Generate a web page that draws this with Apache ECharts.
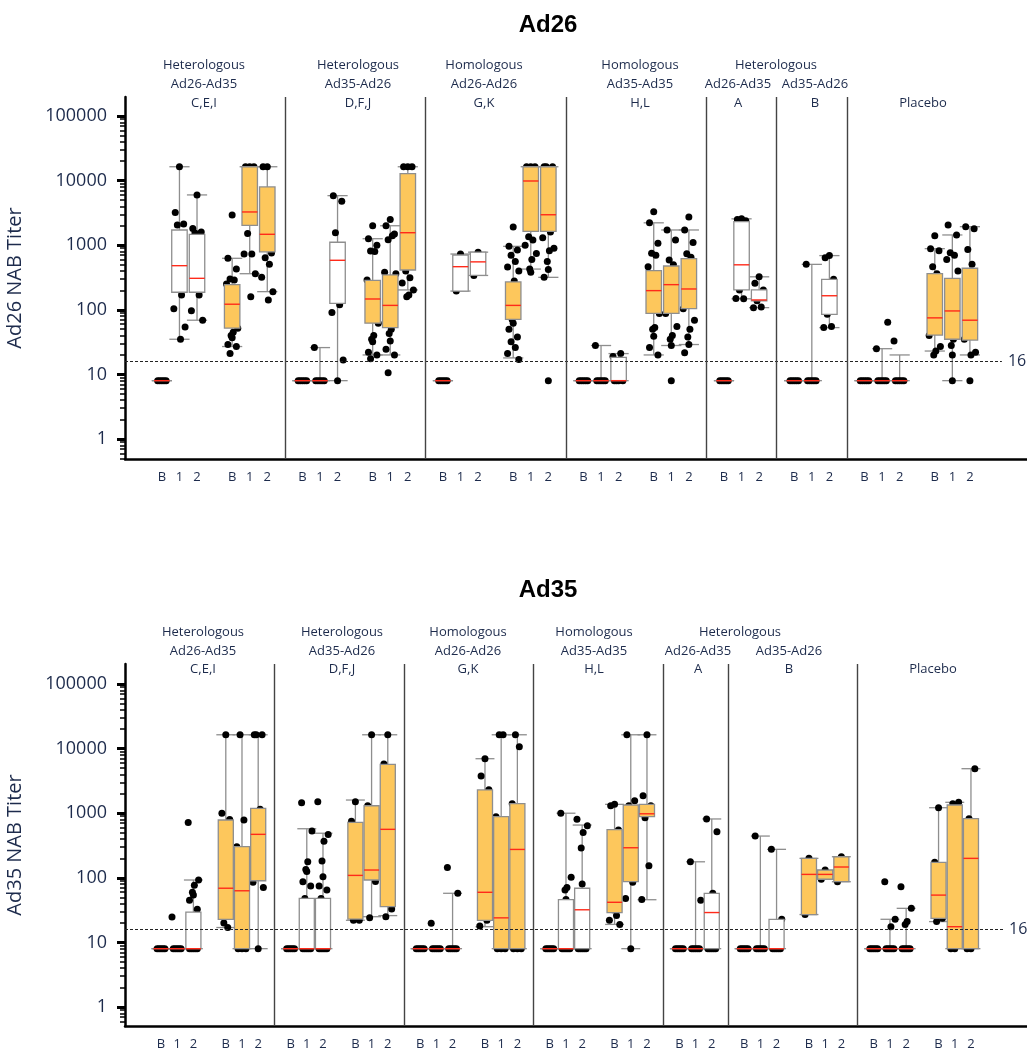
<!DOCTYPE html>
<html><head><meta charset="utf-8">
<script src="https://cdn.jsdelivr.net/npm/echarts@6/dist/echarts.min.js"></script>
<style>html,body{margin:0;padding:0;background:#fff}#c{width:1027px;height:1050px}</style>
</head><body><div id="c"></div>
<script>
// ---------------- DATA ----------------
const visitLabels = ['B', '1', '2'];
const yTickValues = [1, 10, 100, 1000, 10000, 100000];
const refLevel = 16;
const panelTitles = ['Ad26', 'Ad35'];
const yAxisNames = ['Ad26 NAB Titer', 'Ad35 NAB Titer'];

// header texts per panel (line1, line2, line3)
const ad26Headers = [
  ['Heterologous', 'Ad26-Ad35', 'C,E,I'],
  ['Heterologous', 'Ad35-Ad26', 'D,F,J'],
  ['Homologous', 'Ad26-Ad26', 'G,K'],
  ['Homologous', 'Ad35-Ad35', 'H,L'],
  ['Heterologous', '', ''],
  ['', 'Ad26-Ad35', 'A'],
  ['', 'Ad35-Ad26', 'B'],
  ['', '', 'Placebo']
];
const ad35Headers = ad26Headers;

// box type per triple (B,1,2)
const ad26TripleType = ['white','orange','white','orange','white','orange','white','orange','white','white','white','orange'];
const ad35TripleType = ['white','orange','white','orange','white','orange','white','orange','white','white','orange','white','orange'];
// separator after triple index
const ad26SepAfter = [1, 3, 5, 7, 8, 9];
const ad35SepAfter = [1, 3, 5, 7, 8, 10];

// box stats: [lowWhisker, q1, median, q3, highWhisker]
const ad26Boxes = [
  [8,8,8,8,8],[35,187,482,1718,16384],[69,187,307,1475,6000],
  [27,52,122,245,627],[362,2034,3270,16384,16384],[191,790,1475,7970,16384],
  [8,8,8,8,8],[8,8,8,8,26],[8,126,584,1110,5850],
  [20,62,147,286,1260],[20,53,117,346,2000],[203,413,1560,12800,16384],
  [8,8,8,8,8],[195,195,465,705,730],[340,342,552,779,780],
  [18,71,117,270,960],[427,1640,9860,16384,16384],[318,1640,2960,16384,16384],
  [8,8,8,8,8],[8,8,8,8,28],[8,8,8,18.4,21],
  [20,88,198,403,2220],[28,88,245,476,1720],[29,104,210,618,1720],
  [8,8,8,8,8],[148,203,497,2310,2560],[108,138,142,203,324],
  [8,8,8,8,8],[8,8,8,8,505],[53,85,165,296,690],
  [8,8,8,8,8],[8,8,8,8,25],[8,8,8,8,20],
  [23,40.6,75,362,884],[8,35,96,307,1440],[20,34,69,440,1935]
];
const ad26Points = [
  [8,8,8,8,8],[16384,3200,2130,2050,170,104,54,35],[6000,1820,1600,1550,170,97,69],
  [2930,627,427,300,290,250,52,45,40,37,29,27,21],[16384,16384,16384,1520,731,731,362,159],[16384,16384,760,640,505,318,191,142],
  [8,8,8,8,8],[8,8,8,8,8,26],[8,5850,4800,1560,120,91,16.7],
  [2000,1260,1000,815,800,290,62,40,35,32,22,20,17.5],[2500,2000,1490,1210,1400,380,360,50,43,33,24.5,20,10.6],[16384,16384,16384,400,314,260,203,170,159],
  [8,8,8,8,8],[730,195],[780,340],
  [1915,960,843,700,560,460,400,280,71,62,50,38,32,26,21,17],[16384,16384,16384,1350,1200,1000,745,600,427,380],[8,16384,16384,16384,1600,1300,900,822,560,420,320],
  [8,8,8,8,8],[8,8,8,8,8,28],[8,8,8,8,21,19],
  [3300,2220,1070,750,700,465,88,53,50,39,26,20],[8,1720,1200,590,500,88,55,40,35,28],[2730,1720,1100,735,650,104,69,50,38,29,21.7],
  [8,8,8,8,8],[2560,2500,2400,203,148,150],[324,257,203,138,110,108],
  [8,8,8,8,8],[8,8,8,8,8,505],[690,640,296,85,55,53],
  [8,8,8,8,8],[8,8,8,8,8,25,64],[8,8,8,8,8,33],
  [1400,884,820,465,362,40,27,23,20],[8,2050,1440,766,700,600,400,35,28,20],[8,1935,1800,860,505,35,22,20]
];

const ad35Boxes = [
  [8,8,8,8,8],[8,8,8,8,8],[8,8,8,29.5,92.5],
  [17,22.8,69,785,16384],[8,8,63,303,16384],[8,90,471,1190,16384],
  [8,8,8,8,8],[8,8,8,48,575],[8,8,8,48,490],
  [22,23,109,720,1600],[25,92.5,132,1306,16384],[26,35.7,563,5710,16384],
  [8,8,8,8,8],[8,8,8,8,8],[8,8,8,8,57.6],
  [17.5,22,59.7,2290,6980],[8,8,24,884,16384],[8,8,275,1403,16384],
  [8,8,8,8,8],[8,8,8,46,1000],[8,8,32,69,656],
  [19,29,41.8,556,1372],[8,87,292,1340,16384],[45.8,884,980,1372,16384],
  [8,8,8,8,8],[8,8,8,8,177],[8,8,29,57.6,815],
  [8,8,8,8,8],[8,8,8,8,443],[8,8,8,22.8,276],
  [27,27,113,200,200],[95,95,113,132,132],[87,87,147,212,212],
  [8,8,8,8,8],[8,8,8,8,22.8],[8,8,8,8,33.7],
  [21,23.6,54,174,1217],[8,8,17.5,1340,1475],[8,8,200,822,4890]
];
const ad35Points = [
  [8,8,8,8,8],[8,8,8,8,8,24.7],[8,8,8,8,8,720,92.5,77,60,54,45,32.5],
  [16384,1000,800,20,17],[8,8,8,16384,785,303],[8,16384,16384,16384,1150,85,71],
  [8,8,8,8,8],[8,8,8,8,8,1455,530,178,135,125,87,75,48],[8,8,8,8,8,1500,470,367,182,104,75,65,48],
  [1500,750,22,22],[16384,1300,88,24],[16384,5800,33,25],
  [8,8,8,8,8],[8,8,8,8,8,19.8],[8,8,8,8,8,145,57.6],
  [6980,3770,2300,25,22,18],[8,8,8,16384,16384,880],[8,8,8,16384,10700,1400],
  [8,8,8,8,8],[8,8,8,8,8,1000,102,71,65,46],[8,8,8,8,8,804,640,505,290,80],
  [1372,1300,550,32,26,22,19],[8,16384,1560,1300,85,48],[16384,1870,1300,850,154,46],
  [8,8,8,8,8],[8,8,8,8,8,177,45],[8,8,8,8,8,815,517,57.6],
  [8,8,8,8,8],[8,8,8,8,8,443],[8,8,8,8,8,276,22.8],
  [200,27],[132,95],[212,87],
  [8,8,8,8,8],[8,8,8,8,8,87,22.8,17.5],[8,8,8,8,8,73,33.7,21,19],
  [1217,174,23.6,21],[8,8,1475,1400],[8,8,4890,822]
];

// ---------------- LAYOUT / STYLE ----------------
const TEXT = '#1d2b4c';
const ORANGE = '#fdc75c';
const BORDER = '#8e8e8e';
const MEDIAN = '#ff2a1a';
const JIT = [0, -0.24, 0.24, -0.12, 0.12, -0.32, 0.32, 0.06, -0.06];
const LAY = [
  { top: 97, xMin: -2.1, xMax: 49.25, yMin: -0.3096, yMax: 5.294, boxW: 0.88, capW: 1.15, dashEnd: 47.82,
    titleY: 25, headerY: [65, 84, 103], headerX: [204, 358, 484, 640, 776, 738, 815, 923] },
  { top: 664, xMin: -2.222, xMax: 53.46, yMin: -0.294, yMax: 5.31, boxW: 0.93, capW: 1.17, dashEnd: 51.98,
    titleY: 590, headerY: [632, 651, 669], headerX: [203, 342, 468, 594, 740, 698, 789, 933] }
];
const GRID_H = 362;
const L = v => Math.log10(v);

const minorTicks = [];
for (let d = -1; d <= 4; d++) for (let m = 2; m <= 9; m++) minorTicks.push(L(m * Math.pow(10, d)));
const majorTicks = yTickValues.map(L);

const panels = [
  { boxes: ad26Boxes, points: ad26Points, types: ad26TripleType, sep: ad26SepAfter, headers: ad26Headers },
  { boxes: ad35Boxes, points: ad35Points, types: ad35TripleType, sep: ad35SepAfter, headers: ad35Headers }
];

const grid = [], xAxis = [], yAxis = [], series = [], graphic = [];
panels.forEach((P, p) => {
  const lay = LAY[p];
  const slotOf = i => 4 * Math.floor(i / 3) + (i % 3);
  const slots = P.boxes.map((b, i) => slotOf(i));
  const minorIn = minorTicks.filter(v => v > lay.yMin && v < lay.yMax);
  grid.push({ left: 125, top: lay.top, width: 902, height: GRID_H, containLabel: false, outerBoundsMode: 'none' });
  xAxis.push({
    gridIndex: p, type: 'value', min: lay.xMin, max: lay.xMax,
    axisLine: { show: true, onZero: false, lineStyle: { color: '#000', width: 2.5 } },
    axisTick: { show: false }, splitLine: { show: false },
    axisLabel: { customValues: slots, formatter: v => visitLabels[Math.round(v) % 4],
      fontSize: 13, color: TEXT, margin: 12, fontFamily: 'Open Sans' }
  });
  yAxis.push({
    gridIndex: p, type: 'value', min: lay.yMin, max: lay.yMax, position: 'left',
    name: yAxisNames[p], nameLocation: 'middle', nameGap: 100, nameRotate: 90,
    nameTextStyle: { fontSize: 20, color: TEXT, fontFamily: 'Open Sans' },
    axisLine: { show: true, onZero: false, lineStyle: { color: '#000', width: 2.5 } },
    axisTick: { show: true, customValues: majorTicks, length: 8, lineStyle: { color: '#000', width: 3 } },
    axisLabel: { customValues: majorTicks, formatter: v => String(Math.round(Math.pow(10, v))),
      fontSize: 18, color: TEXT, margin: 18, fontFamily: 'Open Sans' },
    splitLine: { show: false }
  });
  yAxis.push({
    gridIndex: p, type: 'value', min: lay.yMin, max: lay.yMax, position: 'left', offset: 0,
    axisLine: { show: false, onZero: false }, axisLabel: { show: false }, splitLine: { show: false },
    axisTick: { show: true, customValues: minorIn, length: 5, lineStyle: { color: '#000', width: 1.5 } }
  });
  const xi = p, yi = 2 * p;
  const boxData = P.boxes.map((b, i) => [slots[i], L(b[0]), L(b[1]), L(b[2]), L(b[3]), L(b[4]),
    P.types[Math.floor(i / 3)] === 'orange' ? 1 : 0]);
  // whiskers + caps
  series.push({
    type: 'custom', xAxisIndex: xi, yAxisIndex: yi, z: 2, silent: true,
    encode: { x: 0, y: [1, 5] }, data: boxData,
    renderItem: (params, api) => {
      const x = api.value(0);
      const lo = api.coord([x, api.value(1)]), q1 = api.coord([x, api.value(2)]);
      const q3 = api.coord([x, api.value(4)]), hi = api.coord([x, api.value(5)]);
      const cw = api.size([lay.capW, 0])[0] / 2;
      const st = { stroke: BORDER, lineWidth: 1.3 };
      return { type: 'group', children: [
        { type: 'line', shape: { x1: lo[0], y1: lo[1], x2: q1[0], y2: q1[1] }, style: st },
        { type: 'line', shape: { x1: q3[0], y1: q3[1], x2: hi[0], y2: hi[1] }, style: st },
        { type: 'line', shape: { x1: lo[0] - cw, y1: lo[1], x2: lo[0] + cw, y2: lo[1] }, style: st },
        { type: 'line', shape: { x1: hi[0] - cw, y1: hi[1], x2: hi[0] + cw, y2: hi[1] }, style: st }
      ]};
    }
  });
  // points
  const pts = [];
  P.points.forEach((list, i) => list.forEach((v, j) => pts.push([slots[i] + JIT[j % JIT.length], L(v)])));
  series.push({
    type: 'scatter', xAxisIndex: xi, yAxisIndex: yi, z: 3, silent: true,
    symbolSize: 7, itemStyle: { color: '#000', opacity: 1 }, data: pts,
    markLine: {
      silent: true, symbol: ['none', 'none'], animation: false,
      lineStyle: { type: [3, 2], color: '#222', width: 1 },
      label: { show: true, position: 'end', formatter: String(refLevel), fontSize: 16, color: TEXT, distance: 6, fontFamily: 'Open Sans' },
      data: [[{ coord: [lay.xMin, L(refLevel)] }, { coord: [lay.dashEnd, L(refLevel)] }]]
    }
  });
  // boxes
  series.push({
    type: 'custom', xAxisIndex: xi, yAxisIndex: yi, z: 4, silent: true,
    encode: { x: 0, y: [2, 4] }, data: boxData,
    renderItem: (params, api) => {
      const x = api.value(0);
      const q1 = api.coord([x, api.value(2)]), md = api.coord([x, api.value(3)]), q3 = api.coord([x, api.value(4)]);
      const hw = api.size([lay.boxW, 0])[0] / 2;
      return { type: 'group', children: [
        { type: 'rect', shape: { x: q3[0] - hw, y: q3[1], width: 2 * hw, height: q1[1] - q3[1] },
          style: { fill: api.value(6) ? ORANGE : '#fff', stroke: BORDER, lineWidth: 1.3 } },
        { type: 'line', shape: { x1: md[0] - hw, y1: md[1], x2: md[0] + hw, y2: md[1] },
          style: { stroke: MEDIAN, lineWidth: 1.4 } }
      ]};
    }
  });
  // separators
  series.push({
    type: 'scatter', xAxisIndex: xi, yAxisIndex: yi, data: [], z: 1,
    markLine: { silent: true, symbol: ['none', 'none'], animation: false, label: { show: false },
      lineStyle: { type: 'solid', color: '#444', width: 1.4 },
      data: P.sep.map(t => ({ xAxis: 4 * t + 3 })) }
  });
  // titles & headers
  graphic.push({ type: 'text', x: 548, y: lay.titleY,
    style: { text: panelTitles[p], font: 'bold 24px "Liberation Sans", Arial, sans-serif', fill: '#000',
      align: 'center', verticalAlign: 'middle' } });
  P.headers.forEach((lines, h) => lines.forEach((t, k) => {
    if (!t) return;
    graphic.push({ type: 'text', x: lay.headerX[h], y: lay.headerY[k],
      style: { text: t, font: '13px "Open Sans", sans-serif', fill: TEXT, align: 'center', verticalAlign: 'middle' } });
  }));
});

const chart = echarts.init(document.getElementById('c'), null, { renderer: 'canvas' });
chart.setOption({ animation: false, backgroundColor: '#fff', grid, xAxis, yAxis, series, graphic });
</script>
</body></html>
